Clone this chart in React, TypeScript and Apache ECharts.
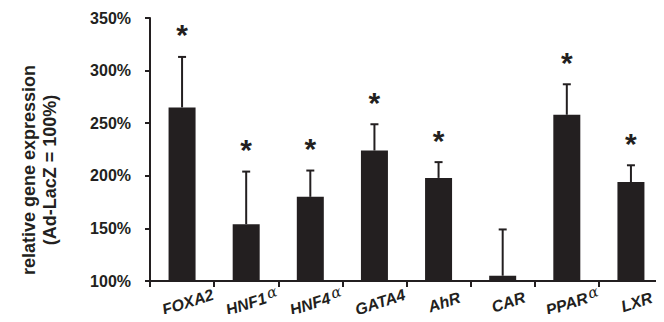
import React, { useEffect, useRef } from "react";
import * as echarts from "echarts";

const categories = ["FOXA2", "HNF1α", "HNF4α", "GATA4", "AhR", "CAR", "PPARα", "LXR"];
const means = [265, 154, 180, 224, 198, 105, 258, 194];
const upperErrors = [313, 204, 205, 249, 213, 149, 287, 210];
const significant = [1, 1, 1, 1, 1, 0, 1, 1];
const yTicks = { min: 100, max: 350, interval: 50 };

export default function App() {
  const ref = useRef<HTMLDivElement>(null);
  useEffect(() => {
    if (!ref.current) return;
    const chart = echarts.init(ref.current, null, { renderer: "svg" });
    const font = "'Liberation Sans', Arial, sans-serif";
    const errData = categories.map((_, i) => [i, means[i], upperErrors[i], significant[i]]);
    const titleStyle = {
      fontFamily: font,
      fontWeight: "bold",
      fontSize: 18,
      fill: "#231f20",
      align: "center",
      verticalAlign: "middle",
    };
    chart.setOption({
      animation: false,
      backgroundColor: "#ffffff",
      grid: { left: 150, right: 1, top: 18, bottom: 41, containLabel: false, outerBoundsMode: "none" },
      xAxis: {
        type: "category",
        data: categories,
        axisLine: { lineStyle: { color: "#231f20", width: 2 } },
        axisTick: {
          show: true,
          interval: 0,
          alignWithLabel: false,
          inside: false,
          length: 6,
          lineStyle: { color: "#231f20", width: 2 },
        },
        axisLabel: {
          interval: 0,
          rotate: 18,
          align: "center",
          verticalAlign: "middle",
          margin: 23,
          padding: [0, 0, 0, 12],
          color: "#231f20",
          fontFamily: font,
          fontWeight: "bold",
          fontStyle: "italic",
          fontSize: 16,
          formatter: (v: string) => v.replace("α", "{a|α}"),
          rich: {
            a: {
              fontFamily: "'DejaVu Serif', serif",
              fontStyle: "italic",
              fontWeight: "normal",
              fontSize: 15,
              padding: [0, 0, 6, 2],
              color: "#231f20",
            },
          },
        },
      },
      yAxis: {
        type: "value",
        min: yTicks.min,
        max: yTicks.max,
        interval: yTicks.interval,
        splitLine: { show: false },
        axisLine: { show: true, lineStyle: { color: "#231f20", width: 2 } },
        axisTick: { show: true, length: 5, lineStyle: { color: "#231f20", width: 2 } },
        axisLabel: {
          margin: 19,
          color: "#231f20",
          fontFamily: font,
          fontWeight: "bold",
          fontSize: 16,
          formatter: (v: number) => v + "%",
        },
      },
      graphic: [
        {
          type: "text",
          x: 29,
          y: 170,
          rotation: Math.PI / 2,
          style: { ...titleStyle, text: "relative gene expression" },
        },
        {
          type: "text",
          x: 50,
          y: 170,
          rotation: Math.PI / 2,
          style: { ...titleStyle, text: "(Ad-LacZ = 100%)" },
        },
      ],
      series: [
        {
          type: "bar",
          data: means,
          barWidth: 27,
          itemStyle: { color: "#231f20" },
        },
        {
          type: "custom",
          data: errData,
          z: 5,
          renderItem: (params: any, api: any) => {
            const i = api.value(0);
            const base = api.coord([i, api.value(1)]);
            const top = api.coord([i, api.value(2)]);
            const children: any[] = [
              {
                type: "line",
                shape: { x1: base[0], y1: base[1], x2: top[0], y2: top[1] },
                style: { stroke: "#231f20", lineWidth: 2 },
              },
              {
                type: "line",
                shape: { x1: top[0] - 4, y1: top[1], x2: top[0] + 4, y2: top[1] },
                style: { stroke: "#231f20", lineWidth: 2 },
              },
            ];
            if (api.value(3)) {
              children.push({
                type: "text",
                x: top[0],
                y: top[1] - 22,
                style: {
                  text: "*",
                  fontFamily: font,
                  fontWeight: "bold",
                  fontSize: 30,
                  fill: "#231f20",
                  align: "center",
                  verticalAlign: "middle",
                },
              });
            }
            return { type: "group", children };
          },
        },
      ],
    });
    return () => chart.dispose();
  }, []);
  return <div ref={ref} style={{ width: 664, height: 322, margin: -8 }} />;
}
